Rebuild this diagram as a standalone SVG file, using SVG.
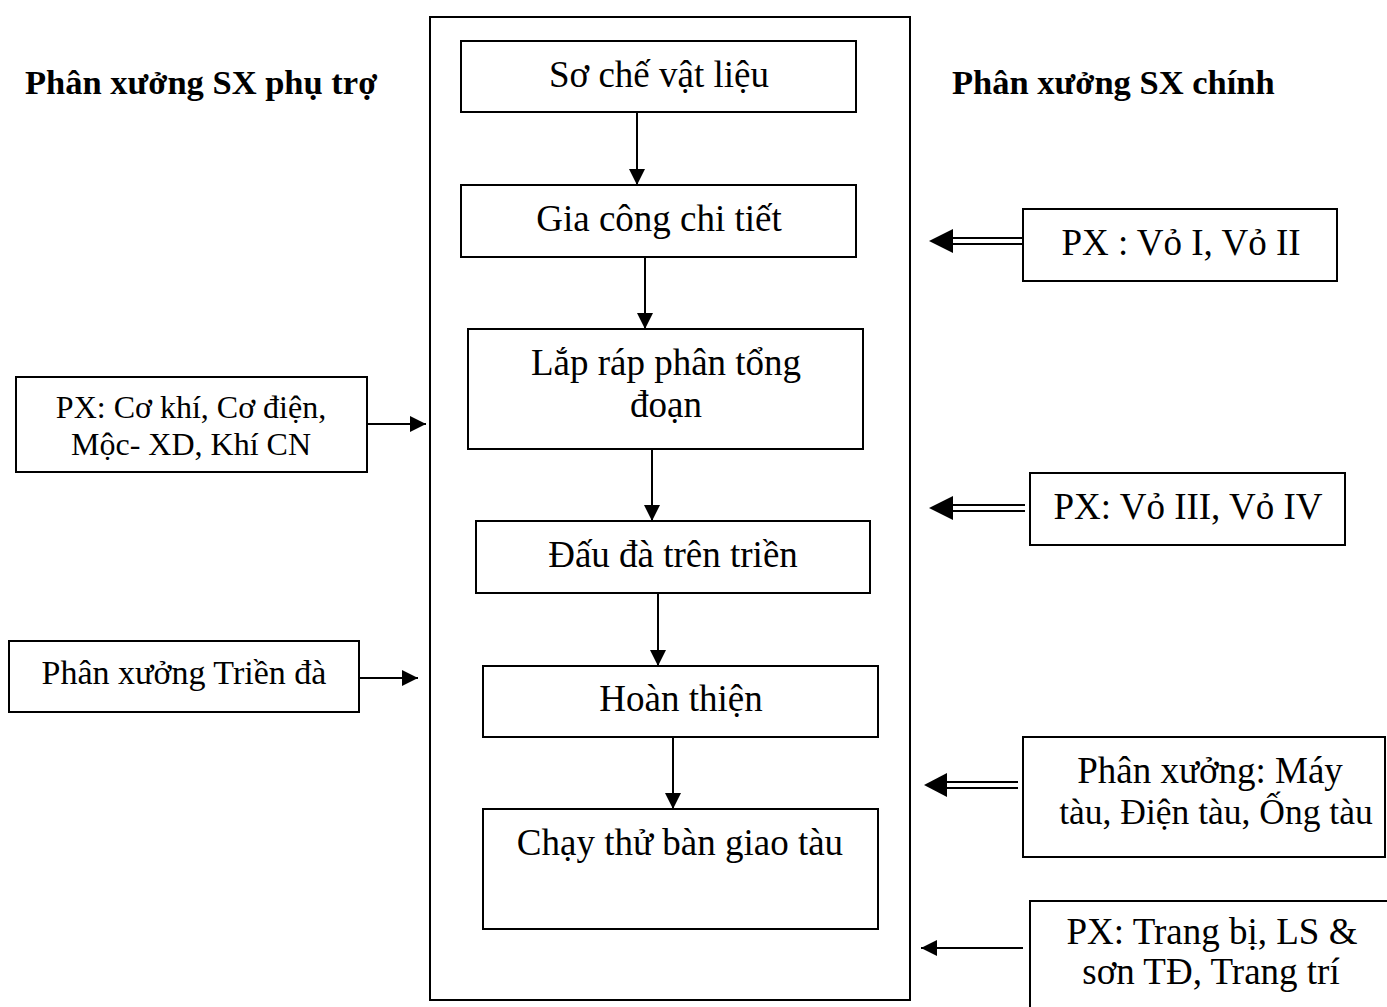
<svg xmlns="http://www.w3.org/2000/svg" width="1387" height="1007" viewBox="0 0 1387 1007">
  <style>
    .box { fill: #fff; stroke: #000; stroke-width: 2; }
    .frame { fill: none; stroke: #000; stroke-width: 2; }
    .t { font-family: "Liberation Serif", "Times New Roman", serif; font-size: 37px; fill: #000; text-anchor: middle; }
    .ts { font-family: "Liberation Serif", "Times New Roman", serif; font-size: 32px; fill: #000; text-anchor: middle; }
    .tm { font-family: "Liberation Serif", "Times New Roman", serif; font-size: 34px; fill: #000; text-anchor: middle; }
    .h { font-family: "Liberation Serif", "Times New Roman", serif; font-size: 34.5px; font-weight: bold; fill: #000; }
    .ln { stroke: #000; stroke-width: 2; fill: none; }
    .dbl { stroke: #000; stroke-width: 2; fill: none; }
  </style>
  <defs>
    <marker id="arr" markerUnits="userSpaceOnUse" markerWidth="20" markerHeight="20" refX="16" refY="8" orient="auto">
      <path d="M0,0 L16,8 L0,16 z" fill="#000"/>
    </marker>
  </defs>
  <rect width="1387" height="1007" fill="#fff"/>

  <!-- section headings -->
  <text class="h" x="25" y="94">Phân xưởng SX phụ trợ</text>
  <text class="h" x="952" y="94">Phân xưởng SX chính</text>

  <!-- main process frame -->
  <g id="frame">
    <rect class="frame" x="430" y="17" width="480" height="983"/>
  </g>

  <!-- process steps -->
  <g id="n1"><rect class="box" x="461" y="41" width="395" height="71"/><text class="t" x="659" y="87">Sơ chế vật liệu</text></g>
  <g id="n2"><rect class="box" x="461" y="185" width="395" height="72"/><text class="t" x="659" y="231">Gia công chi tiết</text></g>
  <g id="n3"><rect class="box" x="468" y="329" width="395" height="120"/><text class="t" x="666" y="375">Lắp ráp phân tổng</text><text class="t" x="666" y="417">đoạn</text></g>
  <g id="n4"><rect class="box" x="476" y="521" width="394" height="72"/><text class="t" x="673" y="567">Đấu đà trên triền</text></g>
  <g id="n5"><rect class="box" x="483" y="666" width="395" height="71"/><text class="t" x="681" y="711">Hoàn thiện</text></g>
  <g id="n6"><rect class="box" x="483" y="809" width="395" height="120"/><text class="t" x="680" y="855">Chạy thử bàn giao tàu</text></g>

  <!-- auxiliary workshops -->
  <g id="aux1"><rect class="box" x="16" y="377" width="351" height="95"/><text class="ts" x="191" y="418">PX: Cơ khí, Cơ điện,</text><text class="ts" x="191" y="455">Mộc- XD, Khí CN</text></g>
  <g id="aux2"><rect class="box" x="9" y="641" width="350" height="71"/><text class="tm" x="184" y="684">Phân xưởng Triền đà</text></g>

  <!-- main workshops -->
  <g id="main1"><rect class="box" x="1023" y="209" width="314" height="72"/><text class="t" x="1181" y="255">PX : Vỏ I, Vỏ II</text></g>
  <g id="main2"><rect class="box" x="1030" y="473" width="315" height="72"/><text class="t" x="1188" y="519">PX: Vỏ III, Vỏ IV</text></g>
  <g id="main3"><rect class="box" x="1023" y="737" width="362" height="120"/><text class="t" x="1210" y="783">Phân xưởng: Máy</text><text class="t" x="1216" y="824" style="font-size:35.5px">tàu, Điện tàu, Ống tàu</text></g>
  <g id="main4"><rect class="box" x="1030" y="901" width="370" height="120"/><text class="t" x="1212" y="944">PX: Trang bị, LS &amp;</text><text class="t" x="1211" y="984">sơn TĐ, Trang trí</text></g>

  <!-- connectors -->
  <g id="connectors">
    <line class="ln" x1="637" y1="112" x2="637" y2="185" marker-end="url(#arr)"/>
    <line class="ln" x1="645" y1="257" x2="645" y2="329" marker-end="url(#arr)"/>
    <line class="ln" x1="652" y1="449" x2="652" y2="521" marker-end="url(#arr)"/>
    <line class="ln" x1="658" y1="593" x2="658" y2="666" marker-end="url(#arr)"/>
    <line class="ln" x1="673" y1="737" x2="673" y2="809" marker-end="url(#arr)"/>

    <line class="ln" x1="367" y1="424" x2="426" y2="424" marker-end="url(#arr)"/>
    <line class="ln" x1="359" y1="678" x2="418" y2="678" marker-end="url(#arr)"/>

    <!-- double-line arrows -->
    <line class="dbl" x1="950" y1="238" x2="1023" y2="238"/>
    <line class="dbl" x1="950" y1="244" x2="1023" y2="244"/>
    <path d="M929,241 L953,229 L953,253 z" fill="#000"/>

    <line class="dbl" x1="950" y1="505" x2="1025" y2="505"/>
    <line class="dbl" x1="950" y1="511" x2="1025" y2="511"/>
    <path d="M929,508 L953,496 L953,520 z" fill="#000"/>

    <line class="dbl" x1="944" y1="782" x2="1018" y2="782"/>
    <line class="dbl" x1="944" y1="788" x2="1018" y2="788"/>
    <path d="M924,785 L947,773 L947,797 z" fill="#000"/>

    <line class="ln" x1="1023" y1="948" x2="921" y2="948" marker-end="url(#arr)"/>
  </g>
</svg>
